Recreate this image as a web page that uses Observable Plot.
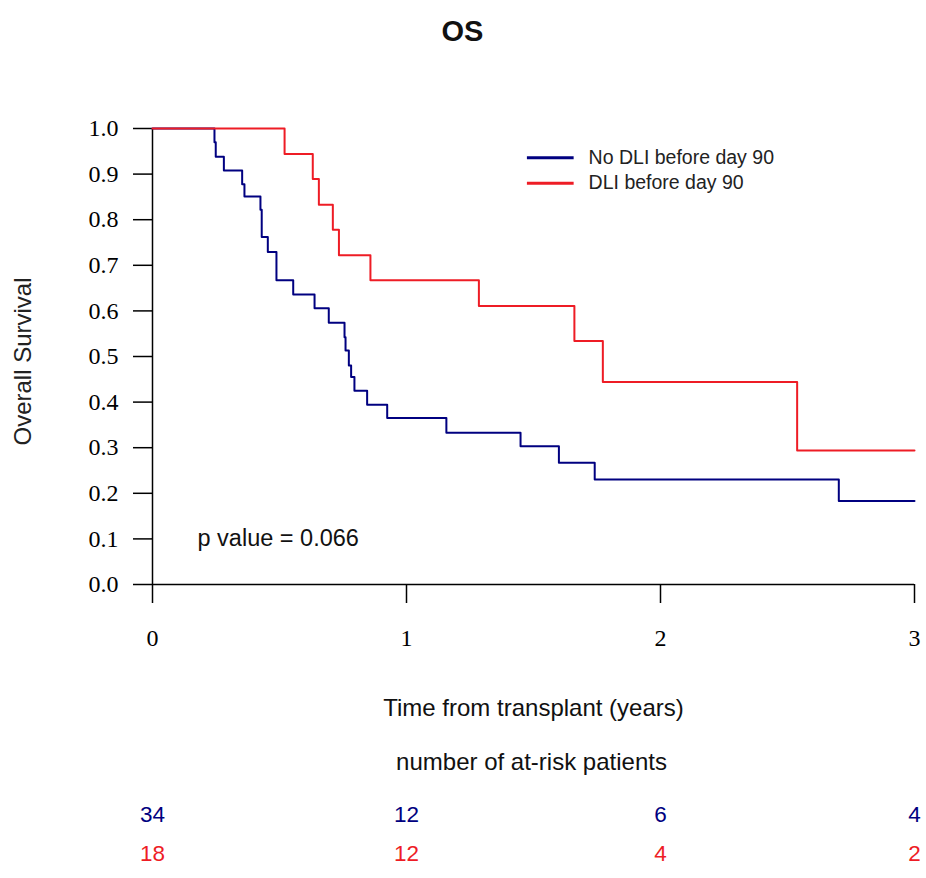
<!DOCTYPE html>
<html>
<head>
<meta charset="utf-8">
<script src="https://cdn.jsdelivr.net/npm/d3@7"></script>
<script src="https://cdn.jsdelivr.net/npm/@observablehq/plot@0.6"></script>
<style>
  html, body { margin: 0; padding: 0; background: #fff; }
</style>
</head>
<body>
<div id="chart"></div>
<script>
// ---- data ----
const title = "OS";
const groups = ["No DLI before day 90", "DLI before day 90"];
const groupColors = ["#000080", "#ee1c25"];

// Kaplan–Meier step points: time (years) and survival from that time on
const noDliTime = [0, 0.244, 0.249, 0.281, 0.353, 0.362, 0.425, 0.430, 0.454, 0.488, 0.554, 0.638, 0.694, 0.756, 0.760, 0.773, 0.782, 0.795, 0.845, 0.924, 1.157, 1.449, 1.600, 1.741, 2.702, 3.0];
const noDliSurv = [1.0, 0.970, 0.938, 0.908, 0.878, 0.851, 0.822, 0.762, 0.729, 0.667, 0.636, 0.606, 0.574, 0.542, 0.513, 0.480, 0.455, 0.425, 0.394, 0.365, 0.333, 0.303, 0.267, 0.230, 0.183, 0.183];

const dliTime = [0, 0.520, 0.631, 0.655, 0.710, 0.734, 0.858, 1.285, 1.661, 1.773, 2.538, 3.0];
const dliSurv = [1.0, 0.944, 0.889, 0.833, 0.778, 0.722, 0.667, 0.611, 0.534, 0.444, 0.294, 0.294];

const xTicks = [0, 1, 2, 3];
const yTicks = [0.0, 0.1, 0.2, 0.3, 0.4, 0.5, 0.6, 0.7, 0.8, 0.9, 1.0];

const riskTimes = [0, 1, 2, 3];
const noDliAtRisk = [34, 12, 6, 4];
const dliAtRisk = [18, 12, 4, 2];

const pValueText = "p value = 0.066";
const xLabel = "Time from transplant (years)";
const yLabel = "Overall Survival";
const riskLabel = "number of at-risk patients";

// ---- tables built from the arrays ----
const noDli = noDliTime.map((t, i) => ({t, s: noDliSurv[i]}));
const dli = dliTime.map((t, i) => ({t, s: dliSurv[i]}));
const riskNo = riskTimes.map((t, i) => ({t, n: noDliAtRisk[i]}));
const riskDli = riskTimes.map((t, i) => ({t, n: dliAtRisk[i]}));
const legend = groups.map((g, i) => ({label: g, color: groupColors[i], row: i}));

const sans = "'Liberation Sans', Arial, Helvetica, sans-serif";
const serif = "'Liberation Serif', 'Times New Roman', serif";

// legend placement (data units of the plot)
const legX1 = 1.476, legX2 = 1.660, legTextX = 1.717;
const legY = [0.936, 0.880];

const chart = Plot.plot({
  width: 926,
  height: 878,
  marginLeft: 152,
  marginRight: 12,
  marginTop: 128,
  marginBottom: 294,
  x: {domain: [0, 3]},
  y: {domain: [0, 1]},
  style: {background: "#fff", color: "#000", fontFamily: sans, overflow: "visible"},
  marks: [
    Plot.axisY({ticks: yTicks, tickSize: 19, tickPadding: 15, tickFormat: d3.format(".1f"),
      fontFamily: serif, fontSize: 24, strokeWidth: 1.5, label: null}),
    Plot.axisX({ticks: xTicks, tickSize: 19, tickPadding: 25, tickFormat: d3.format("d"),
      fontFamily: serif, fontSize: 24, strokeWidth: 1.5, label: null}),
    Plot.ruleX([0], {strokeWidth: 1.5}),
    Plot.ruleY([0], {strokeWidth: 1.5}),
    Plot.line(noDli, {x: "t", y: "s", curve: "step-after", stroke: groupColors[0], strokeWidth: 2}),
    Plot.line(dli, {x: "t", y: "s", curve: "step-after", stroke: groupColors[1], strokeWidth: 2}),
    // legend
    Plot.ruleY(legend, {y: d => legY[d.row], x1: legX1, x2: legX2, stroke: "color", strokeWidth: 3}),
    Plot.text(legend, {x: legTextX, y: d => legY[d.row], text: "label", textAnchor: "start",
      lineAnchor: "middle", fontSize: 19.5, fill: "#222"}),
    // annotations
    Plot.text([title], {text: d => d, frameAnchor: "top", dx: -71, dy: -97, lineAnchor: "middle",
      fontSize: 29, fontWeight: "bold", fill: "#111"}),
    Plot.text([yLabel], {text: d => d, frameAnchor: "left", dx: -129, dy: 5, rotate: -90,
      textAnchor: "middle", lineAnchor: "middle", fontSize: 24, fill: "#222"}),
    Plot.text([pValueText], {text: d => d, frameAnchor: "bottom-left", dx: 45, dy: -46,
      textAnchor: "start", lineAnchor: "middle", fontSize: 23.5, fill: "#111"}),
    Plot.text([xLabel], {text: d => d, frameAnchor: "bottom", dy: 124, lineAnchor: "middle",
      fontSize: 24, fill: "#111"}),
    Plot.text([riskLabel], {text: d => d, frameAnchor: "bottom", dx: -2, dy: 178, lineAnchor: "middle",
      fontSize: 24, fill: "#111"}),
    Plot.text(riskNo, {x: "t", text: "n", frameAnchor: "bottom", dy: 230, lineAnchor: "middle",
      fontSize: 22.5, fill: groupColors[0]}),
    Plot.text(riskDli, {x: "t", text: "n", frameAnchor: "bottom", dy: 269, lineAnchor: "middle",
      fontSize: 22.5, fill: groupColors[1]})
  ]
});

document.getElementById("chart").appendChild(chart);
</script>
</body>
</html>
